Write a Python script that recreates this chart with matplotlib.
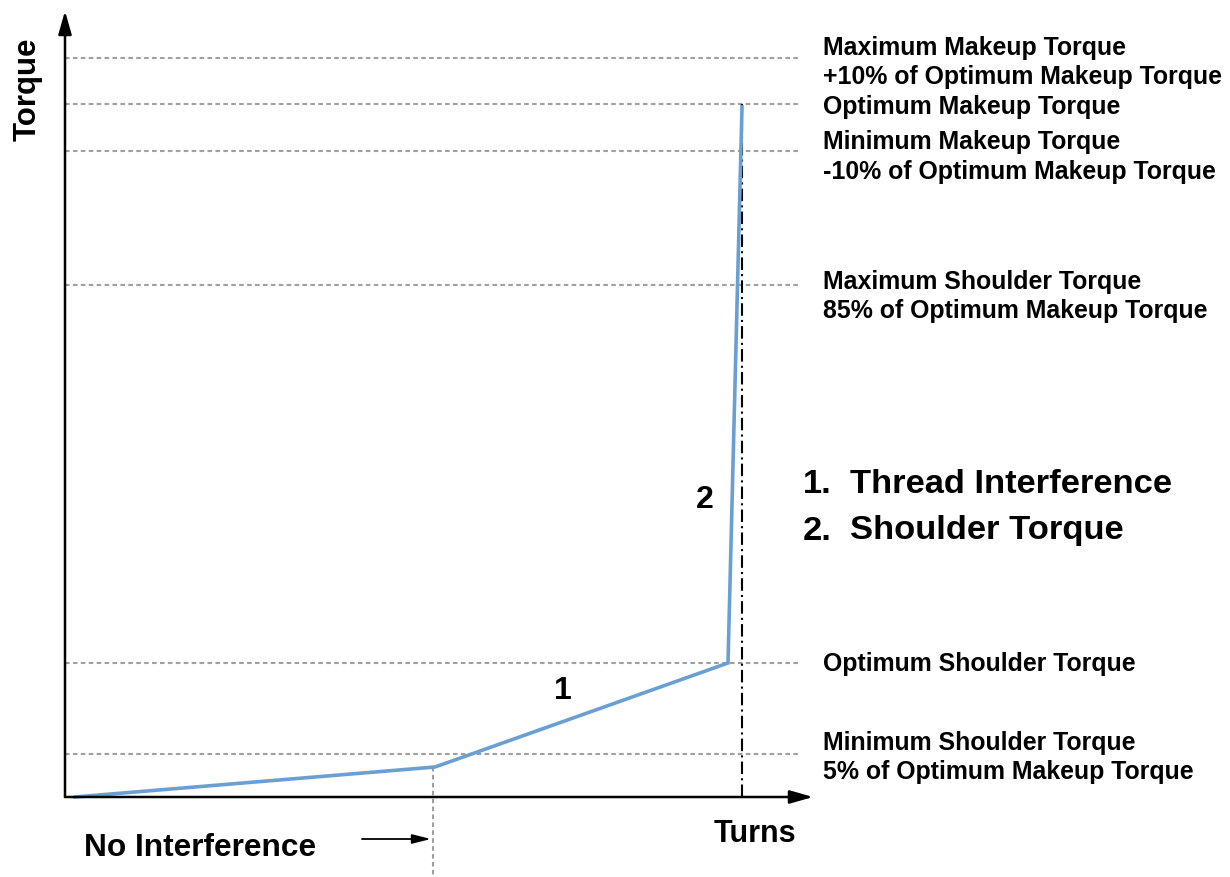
import matplotlib
matplotlib.use("Agg")
import matplotlib.pyplot as plt

plt.rcParams['font.family'] = ['Liberation Sans', 'DejaVu Sans']

# torque curve (turns, torque) in arbitrary units
turns = [10, 370, 663, 677]
torque = [0, 30, 134, 690]

# reference torque levels (dotted lines)
levels = [739, 693, 646, 512, 134, 43]

# label lines on the right, with their heights
label_texts = [
    "Maximum Makeup Torque",
    "+10% of Optimum Makeup Torque",
    "Optimum Makeup Torque",
    "Minimum Makeup Torque",
    "-10% of Optimum Makeup Torque",
    "Maximum Shoulder Torque",
    "85% of Optimum Makeup Torque",
    "Optimum Shoulder Torque",
    "Minimum Shoulder Torque",
    "5% of Optimum Makeup Torque",
]
label_y = [750, 721, 691, 656, 626, 516, 487, 134, 55, 26]

no_interference_x = 368
shoulder_x = 677
legend_items = ["1.", "2."]
legend_texts = ["Thread Interference", "Shoulder Torque"]

fig = plt.figure(figsize=(12.3, 8.78), dpi=100)
ax = fig.add_axes([0, 0, 1, 1])
ax.set_xlim(-65, 1165)
ax.set_ylim(-80, 798)
ax.axis('off')

dotted = dict(color='#a0a0a0', lw=1.5, linestyle=(0, (2.2, 1.6)))
for lv in levels:
    ax.plot([0, 735], [lv, lv], **dotted)
ax.plot([no_interference_x, no_interference_x], [torque[1], -80], **dotted)

# shoulder line (dash-dot)
ax.plot([shoulder_x, shoulder_x], [0, levels[1]], color='black', lw=1.5,
        linestyle=(0, (6, 2, 1, 2)))

ax.plot(turns, torque, color='#6a9fd3', lw=2.6, solid_joinstyle='miter')

# axes arrows
arrow = dict(arrowstyle='-|>,head_length=0.7,head_width=0.2', color='black',
             lw=1.8, shrinkA=0, shrinkB=0, mutation_scale=20)
ax.annotate('', xy=(748, 0), xytext=(0, 0), arrowprops=arrow)
ax.annotate('', xy=(0, 786), xytext=(0, 0), arrowprops=arrow)

ax.text(-37, 709, "Torque", rotation=90, fontsize=22.5, fontweight='bold',
        ha='center', va='center')
ax.text(690, -36, "Turns", fontsize=22, fontweight='bold',
        ha='center', va='center')
ax.text(135, -50, "No Interference", fontsize=22.8, fontweight='bold',
        ha='center', va='center')
ax.annotate('', xy=(no_interference_x - 2, -42), xytext=(297, -42),
            arrowprops=dict(arrowstyle='-|>,head_length=0.8,head_width=0.2',
                            color='black', lw=1.3, shrinkA=0, shrinkB=0,
                            mutation_scale=14))

for t, y in zip(label_texts, label_y):
    ax.text(758, y, t, fontsize=17.9, fontweight='bold', ha='left', va='center')

ax.text(498, 107, "1", fontsize=23, fontweight='bold', ha='center', va='center')
ax.text(640, 298, "2", fontsize=23, fontweight='bold', ha='center', va='center')

for i, (n, t) in enumerate(zip(legend_items, legend_texts)):
    y = 313 - i * 46
    ax.text(738, y, n, fontsize=24.8, fontweight='bold', ha='left', va='center')
    ax.text(785, y, t, fontsize=24.8, fontweight='bold', ha='left', va='center')

fig.savefig("out.png", dpi=100)
